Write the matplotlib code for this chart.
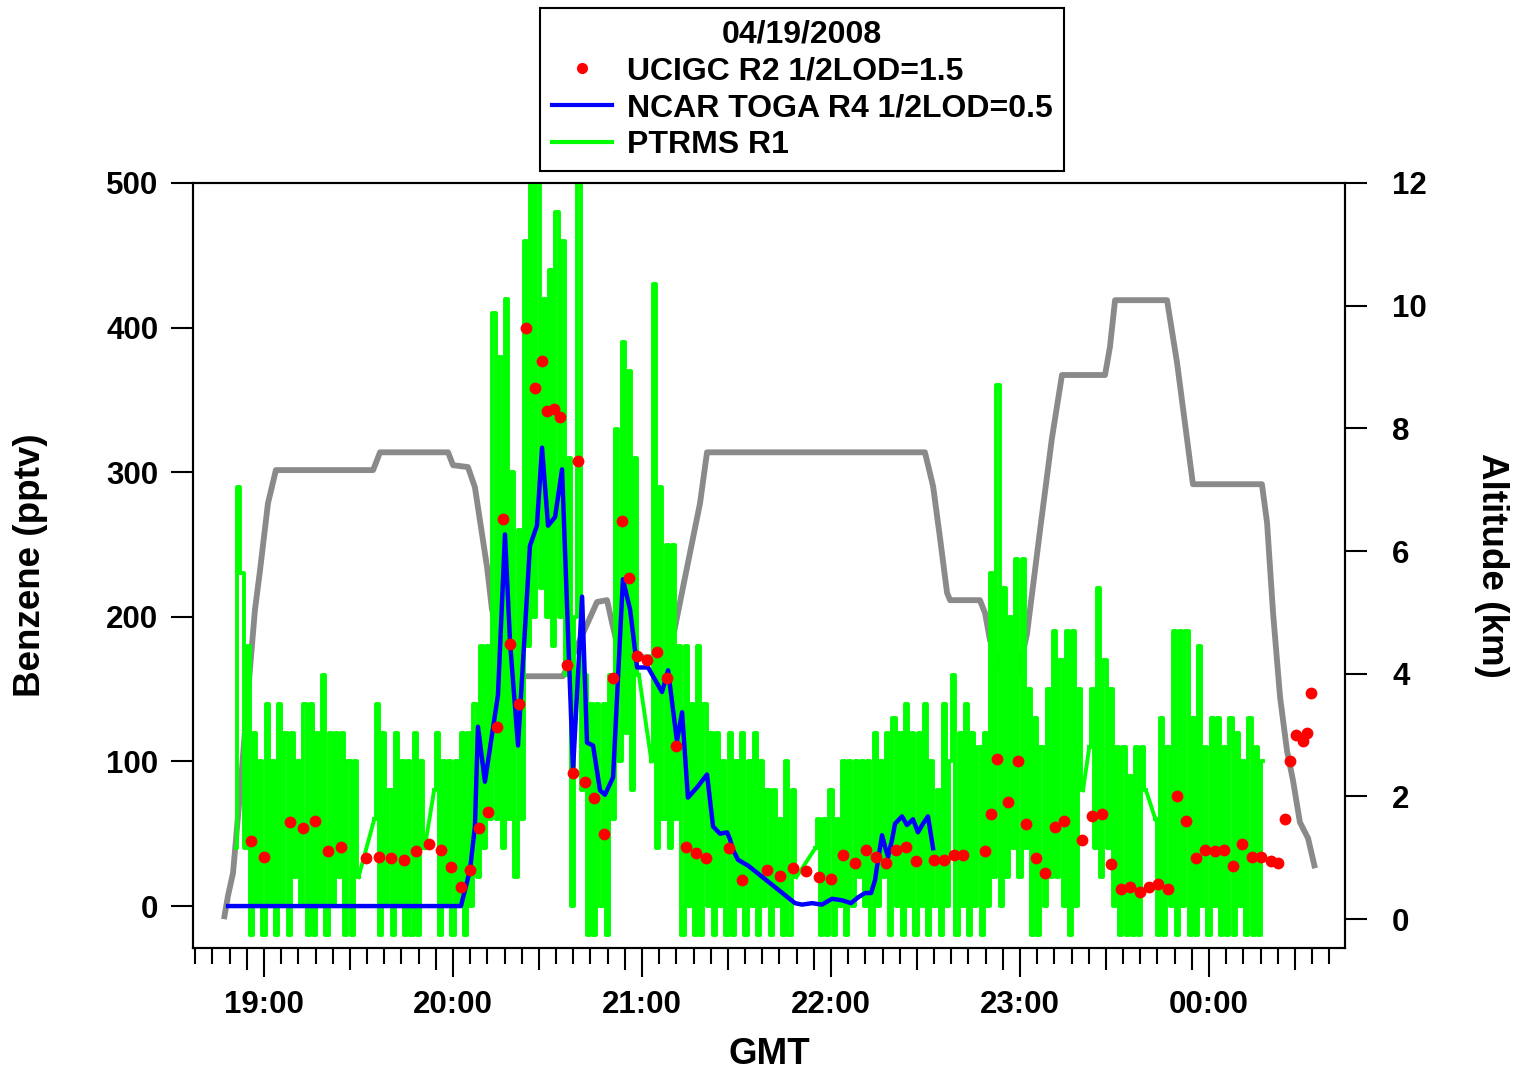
import matplotlib
matplotlib.use("Agg")
import matplotlib.pyplot as plt
import numpy as np

plt.rcParams['font.family'] = ['Liberation Sans', 'DejaVu Sans']
plt.rcParams['font.weight'] = 'bold'

# time axis is decimal hours GMT; values > 24 are after midnight

# UCIGC R2 canister samples
ucigc_time = [18.931, 19.000, 19.138, 19.206, 19.270, 19.339, 19.407, 19.540, 19.608, 19.672,
              19.741, 19.804, 19.873, 19.937, 19.989, 20.042, 20.090, 20.138, 20.185, 20.233,
              20.265, 20.302, 20.349, 20.386, 20.434, 20.471, 20.497, 20.534, 20.566, 20.603,
              20.635, 20.661, 20.698, 20.746, 20.799, 20.847, 20.894, 20.931, 20.974, 21.026,
              21.079, 21.132, 21.180, 21.233, 21.286, 21.339, 21.460, 21.529, 21.661, 21.730,
              21.799, 21.868, 21.937, 22.000, 22.063, 22.127, 22.185, 22.238, 22.291, 22.344,
              22.397, 22.450, 22.545, 22.598, 22.651, 22.698, 22.815, 22.847, 22.878, 22.937,
              22.989, 23.032, 23.085, 23.132, 23.185, 23.233, 23.328, 23.381, 23.434, 23.481,
              23.534, 23.582, 23.635, 23.683, 23.730, 23.783, 23.831, 23.878, 23.931, 23.979,
              24.032, 24.079, 24.127, 24.175, 24.228, 24.275, 24.328, 24.365, 24.402, 24.429,
              24.460, 24.497, 24.519, 24.540]
ucigc_benzene = [45, 34, 58, 54, 59, 38, 41, 33, 34, 33,
                 32, 38, 43, 39, 27, 13, 25, 54, 65, 124,
                 268, 181, 140, 400, 358, 377, 342, 344, 338, 167,
                 92, 308, 86, 75, 50, 158, 266, 227, 173, 170,
                 176, 158, 111, 41, 37, 33, 40, 18, 25, 21,
                 26, 24, 20, 19, 35, 30, 39, 34, 30, 39,
                 41, 31, 32, 32, 35, 35, 38, 64, 102, 72,
                 100, 57, 33, 23, 55, 59, 46, 62, 64, 29,
                 12, 13, 10, 13, 15, 12, 76, 59, 33, 39,
                 38, 39, 28, 43, 34, 34, 31, 30, 60, 100,
                 118, 114, 120, 147]

# NCAR TOGA R4
toga_time = [18.810, 20.042, 20.090, 20.116, 20.132, 20.169, 20.238, 20.275, 20.302, 20.344,
             20.407, 20.444, 20.471, 20.503, 20.540, 20.577, 20.635, 20.683, 20.709, 20.741,
             20.778, 20.804, 20.847, 20.899, 20.937, 20.974, 21.032, 21.106, 21.138, 21.185,
             21.212, 21.243, 21.291, 21.344, 21.376, 21.413, 21.450, 21.466, 21.481, 21.508,
             21.534, 21.561, 21.810, 21.847, 21.899, 21.952, 22.005, 22.058, 22.106, 22.143,
             22.180, 22.212, 22.233, 22.249, 22.270, 22.286, 22.302, 22.323, 22.339, 22.376,
             22.402, 22.434, 22.460, 22.487, 22.513, 22.540]
toga_benzene = [0, 0, 25, 55, 124, 86, 146, 257, 182, 111,
                249, 263, 317, 263, 269, 302, 94, 214, 113, 111,
                80, 77, 89, 226, 205, 165, 165, 148, 163, 114,
                134, 75, 82, 91, 55, 50, 51, 46, 39, 32,
                30, 28, 2, 1, 2, 1, 5, 4, 2, 6,
                9, 9, 18, 32, 49, 41, 34, 46, 57, 62,
                56, 60, 51, 57, 62, 40]

# PTRMS R1, one value per minute, one list per stretch of data
ptrms_start = ["18:51", "19:35", "19:54", "21:03", "21:55", "23:22", "23:43"]
ptrms_values = [
    [40, 290, 230, 40, 180, -20, 120, 0, 100, -20, 140, 0, 100, -20, 140, 0, 120, -20, 120, 20,
     100, 0, 140, -20, 140, -20, 120, 0, 160, -20, 120, 0, 120, 20, 120, -20, 100, -20, 100, 20],
    [60, 140, -20, 120, 0, 80, -20, 120, 0, 100, -20, 100, -20, 120, -20, 100, 40],
    [80, 120, -20, 100, 0, 100, -20, 100, 0, 120,
     -20, 120, 0, 140, 20, 180, 40, 180, 60, 410,
     60, 380, 40, 420, 60, 300, 20, 260, 60, 460,
     180, 520, 200, 520, 220, 420, 200, 440, 180, 480,
     200, 460, 160, 310, 0, 200, 520, 80, 160, -20,
     140, -20, 140, 0, 140, -20, 160, 60, 330, 100,
     390, 120, 370, 80, 310, 160],
    [100, 430, 40, 290, 60, 250, 40, 250, 60, 180,
     -20, 180, 0, 140, -20, 180, -20, 140, 0, 120,
     -20, 120, 0, 100, -20, 120, -20, 100, 0, 120,
     -20, 100, 0, 120, -20, 100, 0, 80, -20, 80,
     0, 60, -20, 100, -20, 80, 20],
    [40, 60, -20, 60, -20, 80, -20, 60, 0, 100,
     -20, 100, 0, 100, 20, 100, 0, 100, -20, 120,
     0, 100, 20, 120, -20, 130, 0, 120, -20, 140,
     0, 120, -20, 120, 0, 140, -20, 100, 0, 80,
     -20, 140, 0, 100, 160, -20, 120, 0, 140, -20,
     120, 0, 110, -20, 120, 0, 230, 20, 360, 0,
     220, 20, 200, 40, 240, 20, 240, 40, 150, -20,
     130, -20, 110, 0, 150, 20, 190, 20, 170, 0,
     190, -20, 190, 0, 150, 80],
    [110, 150, 40, 220, 20, 170, 40, 150, 0, 110, -20, 110, -20, 90, -20, 110, -20, 110, 80],
    [60, -20, 130, -20, 110, 0, 190, -20, 190, 0, 190, -20, 130, -20, 180, 0, 110, -20, 130, 0,
     130, -20, 110, -20, 130, -20, 120, 0, 100, -20, 130, -20, 110, -20, 100],
]

# aircraft altitude (km)
alt_time = [18.788, 18.810, 18.836, 18.873, 18.915, 18.952, 18.979, 19.021, 19.063, 19.577,
            19.614, 19.974, 20.000, 20.079, 20.116, 20.180, 20.206, 20.312, 20.582, 20.698,
            20.762, 20.815, 20.841, 20.884, 21.143, 21.217, 21.307, 21.344, 22.497, 22.540,
            22.577, 22.614, 22.630, 22.788, 22.815, 22.841, 22.958, 23.037, 23.106, 23.169,
            23.222, 23.450, 23.476, 23.503, 23.778, 23.831, 23.915, 24.280, 24.307, 24.339,
            24.376, 24.413, 24.444, 24.481, 24.524, 24.561]
alt_km = [0.0, 0.39, 0.75, 2.05, 3.68, 5.04, 5.69, 6.78, 7.32, 7.32,
          7.61, 7.61, 7.40, 7.37, 7.04, 5.74, 5.05, 3.96, 3.96, 4.73,
          5.17, 5.20, 4.84, 4.27, 4.27, 5.41, 6.78, 7.61, 7.61, 7.06,
          6.21, 5.32, 5.20, 5.20, 4.99, 4.55, 3.57, 4.65, 6.34, 7.84,
          8.87, 8.87, 9.33, 10.09, 10.09, 9.07, 7.09, 7.09, 6.47, 4.99,
          3.62, 2.74, 2.27, 1.58, 1.32, 0.83]


def hhmm_to_hours(s):
    h, m = s.split(":")
    return int(h) + int(m) / 60.0


ptrms_segments = []
for start, vals in zip(ptrms_start, ptrms_values):
    t0 = hhmm_to_hours(start)
    ptrms_segments.append((t0 + np.arange(len(vals)) / 60.0, np.array(vals, dtype=float)))

W, H = 1519, 1074
fig = plt.figure(figsize=(W / 100, H / 100), dpi=100)
ax = fig.add_axes([193 / W, 1 - 948 / H, 1152 / W, 765 / H])
ax2 = ax.twinx()
ax.set_zorder(ax2.get_zorder() + 1)
ax.patch.set_visible(False)

# altitude underneath everything
ax2.plot(alt_time, alt_km, color='#8a8a8a', lw=4.2, solid_capstyle='butt')

# PTRMS: dense record drawn as steps, straight lines across the data gaps
green_kw = dict(color='#00ff00', lw=2.8)
for i, (t, v) in enumerate(ptrms_segments):
    green, = ax.plot(t, v, drawstyle='steps-mid', label='PTRMS R1', **green_kw)
    if i > 0:
        tp, vp = ptrms_segments[i - 1]
        ax.plot([tp[-1], t[0]], [vp[-1], v[0]], **green_kw)

blue, = ax.plot(toga_time, toga_benzene, color='#0000ff', lw=3.2, label='NCAR TOGA R4 1/2LOD=0.5')
red, = ax.plot(ucigc_time, ucigc_benzene, 'o', color='#ff0000', ms=8.5, mec='none',
               label='UCIGC R2 1/2LOD=1.5')

ax.set_xlim(18.6243, 24.7196)
ax.set_ylim(-29, 500)
ax2.set_ylim(-0.47, 12)

tick_font = dict(fontsize=22.5, fontweight='bold')

# x ticks: hours, minor ticks at 1/11 h, longer ones at 5/11 and 10/11
hours = list(range(19, 25))
ax.set_xticks(hours)
ax.set_xticklabels([f"{h % 24:02d}:00" for h in hours], **tick_font)
minor_ticks = []
medium_ticks = []
for h in range(18, 25):
    for k in range(1, 11):
        t = h + k / 11.0
        if t < 18.62 or t > 24.72:
            continue
        if k in (5, 10):
            medium_ticks.append(t)
        else:
            minor_ticks.append(t)
ax.set_xticks(minor_ticks, minor=True)
ax.tick_params(axis='x', which='major', direction='out', length=21, width=1.5, pad=9)
ax.tick_params(axis='x', which='minor', direction='out', length=11.5, width=1.5)

sec = ax.secondary_xaxis('bottom')
sec.set_xticks(medium_ticks)
sec.tick_params(axis='x', direction='out', length=16, width=1.5, labelbottom=False)
sec.spines['bottom'].set_visible(False)

ax.set_yticks([0, 100, 200, 300, 400, 500])
ax.set_yticklabels(['0', '100', '200', '300', '400', '500'], **tick_font)
ax.tick_params(axis='y', direction='out', length=16, width=1.5, pad=9)

ax2.set_yticks([0, 2, 4, 6, 8, 10, 12])
ax2.set_yticklabels(['0', '2', '4', '6', '8', '10', '12'], **tick_font)
ax2.tick_params(axis='y', direction='out', length=16, width=1.5, pad=18)

for a in (ax, ax2):
    for sp in a.spines.values():
        sp.set_linewidth(1.5)
        sp.set_color('black')

label_font = dict(fontsize=26.5, fontweight='bold')
fig.text(31 / W, 1 - 565 / H, 'Benzene (pptv)', rotation=90, ha='center', va='center', **label_font)
fig.text(1491 / W, 1 - 565 / H, 'Altitude (km)', rotation=270, ha='center', va='center', **label_font)
fig.text(769 / W, 1 - 1055 / H, 'GMT', ha='center', va='center', **label_font)

leg = fig.legend(handles=[red, blue, green],
                 labels=['UCIGC R2 1/2LOD=1.5', 'NCAR TOGA R4 1/2LOD=0.5', 'PTRMS R1'],
                 title='04/19/2008', loc='upper center', bbox_to_anchor=(802 / W, 1 - 8 / H),
                 frameon=True, fancybox=False, framealpha=1, edgecolor='black',
                 prop=dict(size=23, weight='bold'),
                 title_fontproperties=dict(size=23, weight='bold'),
                 numpoints=1, handlelength=1.9, handletextpad=0.45,
                 labelspacing=0.22, borderpad=0.35, borderaxespad=0)
leg.get_frame().set_linewidth(1.5)
for line in leg.get_lines():
    line.set_linewidth(3.0)
    line.set_drawstyle('default')
leg.get_lines()[0].set_markersize(8.0)

fig.savefig('out.png', dpi=100)
